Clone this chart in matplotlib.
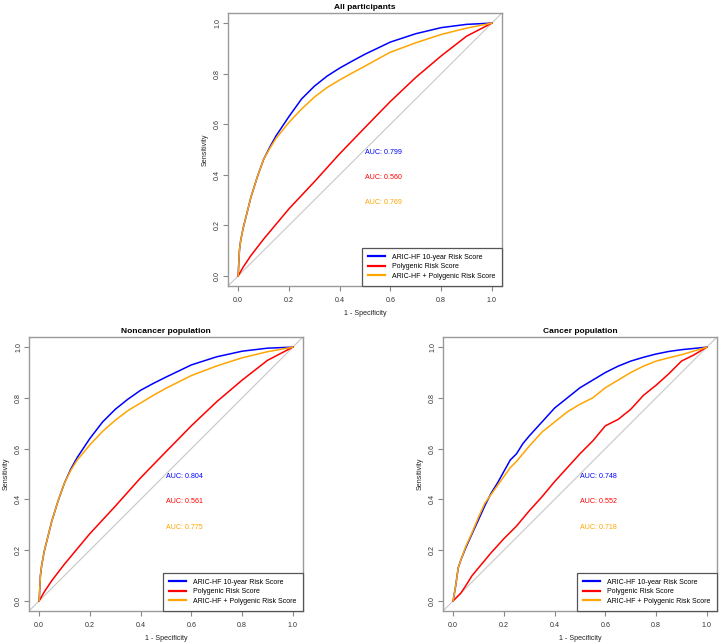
import matplotlib
matplotlib.use("Agg")
import matplotlib.pyplot as plt

plt.rcParams['font.family'] = ['Liberation Sans', 'DejaVu Sans']

# ROC curves (x = 1 - specificity, y = sensitivity)
labels = ["ARIC-HF 10-year Risk Score", "Polygenic Risk Score",
          "ARIC-HF + Polygenic Risk Score"]
colors = ["blue", "red", "orange"]

# All participants
all_fpr_aric = [0, 0.005, 0.01, 0.02, 0.03, 0.05, 0.075, 0.1, 0.125, 0.15, 0.2, 0.25,
                0.3, 0.35, 0.4, 0.45, 0.5, 0.6, 0.7, 0.8, 0.9, 1.0]
all_tpr_aric = [0, 0.10, 0.14, 0.19, 0.23, 0.31, 0.39, 0.46, 0.51, 0.555, 0.63, 0.70,
                0.75, 0.79, 0.822, 0.85, 0.877, 0.925, 0.958, 0.982, 0.995, 1.0]
all_fpr_prs = [0, 0.02, 0.05, 0.1, 0.2, 0.3, 0.4, 0.5, 0.6, 0.7, 0.8, 0.9, 1.0]
all_tpr_prs = [0, 0.035, 0.08, 0.145, 0.265, 0.372, 0.483, 0.587, 0.69, 0.785, 0.87, 0.948, 1.0]
all_fpr_comb = [0, 0.005, 0.01, 0.02, 0.03, 0.05, 0.075, 0.1, 0.125, 0.15, 0.2, 0.25,
                0.3, 0.35, 0.4, 0.45, 0.5, 0.6, 0.7, 0.8, 0.9, 1.0]
all_tpr_comb = [0, 0.10, 0.14, 0.19, 0.23, 0.31, 0.39, 0.46, 0.505, 0.545, 0.607, 0.66,
                0.707, 0.745, 0.775, 0.803, 0.83, 0.885, 0.922, 0.955, 0.98, 1.0]
all_auc = ["0.799", "0.560", "0.769"]

# Noncancer population
non_fpr_aric = [0, 0.005, 0.01, 0.02, 0.03, 0.05, 0.075, 0.1, 0.125, 0.15, 0.2, 0.25,
                0.3, 0.35, 0.4, 0.45, 0.5, 0.6, 0.7, 0.8, 0.9, 1.0]
non_tpr_aric = [0, 0.10, 0.14, 0.195, 0.235, 0.315, 0.395, 0.465, 0.52, 0.565, 0.64, 0.705,
                0.755, 0.795, 0.83, 0.857, 0.882, 0.93, 0.962, 0.984, 0.996, 1.0]
non_fpr_prs = [0, 0.02, 0.05, 0.1, 0.2, 0.3, 0.4, 0.5, 0.6, 0.7, 0.8, 0.9, 1.0]
non_tpr_prs = [0, 0.035, 0.08, 0.145, 0.265, 0.373, 0.485, 0.588, 0.69, 0.785, 0.87, 0.948, 1.0]
non_fpr_comb = [0, 0.005, 0.01, 0.02, 0.03, 0.05, 0.075, 0.1, 0.125, 0.15, 0.2, 0.25,
                0.3, 0.35, 0.4, 0.45, 0.5, 0.6, 0.7, 0.8, 0.9, 1.0]
non_tpr_comb = [0, 0.10, 0.14, 0.195, 0.235, 0.315, 0.395, 0.465, 0.515, 0.555, 0.615, 0.668,
                0.712, 0.75, 0.78, 0.81, 0.838, 0.888, 0.926, 0.958, 0.982, 1.0]
non_auc = ["0.804", "0.561", "0.775"]

# Cancer population
can_fpr_aric = [0, 0.01, 0.02, 0.03, 0.05, 0.075, 0.1, 0.125, 0.15, 0.175, 0.2, 0.225,
                0.25, 0.275, 0.3, 0.35, 0.4, 0.45, 0.5, 0.55, 0.6, 0.65, 0.7, 0.75,
                0.8, 0.85, 0.9, 0.95, 1.0]
can_tpr_aric = [0, 0.06, 0.13, 0.16, 0.21, 0.265, 0.32, 0.375, 0.425, 0.465, 0.51, 0.555,
                0.58, 0.62, 0.65, 0.705, 0.76, 0.80, 0.84, 0.87, 0.90, 0.925, 0.945, 0.96,
                0.973, 0.983, 0.99, 0.995, 1.0]
can_fpr_prs = [0, 0.03, 0.05, 0.075, 0.1, 0.15, 0.2, 0.25, 0.3, 0.35, 0.4, 0.45, 0.5,
               0.55, 0.6, 0.65, 0.7, 0.75, 0.8, 0.85, 0.9, 0.95, 1.0]
can_tpr_prs = [0, 0.03, 0.06, 0.10, 0.13, 0.19, 0.245, 0.295, 0.355, 0.41, 0.47, 0.525, 0.58,
               0.63, 0.69, 0.715, 0.755, 0.81, 0.85, 0.895, 0.945, 0.97, 1.0]
can_fpr_comb = [0, 0.01, 0.02, 0.03, 0.05, 0.075, 0.1, 0.125, 0.15, 0.175, 0.2, 0.225,
                0.25, 0.275, 0.3, 0.35, 0.4, 0.45, 0.5, 0.55, 0.6, 0.65, 0.7, 0.75,
                0.8, 0.85, 0.9, 0.95, 1.0]
can_tpr_comb = [0, 0.06, 0.13, 0.16, 0.215, 0.27, 0.33, 0.385, 0.42, 0.455, 0.49, 0.525,
                0.55, 0.58, 0.61, 0.665, 0.705, 0.745, 0.775, 0.80, 0.84, 0.87, 0.90, 0.925,
                0.945, 0.958, 0.97, 0.985, 1.0]
can_auc = ["0.748", "0.552", "0.718"]

ticks = [0.0, 0.2, 0.4, 0.6, 0.8, 1.0]
tick_labels = ["0.0", "0.2", "0.4", "0.6", "0.8", "1.0"]

W, H = 719, 642
fig = plt.figure(figsize=(W / 100, H / 100), dpi=100)


def panel(box, title, curves, aucs):
    x0, y0, x1, y1 = box  # pixel box, y from top
    ax = fig.add_axes([x0 / W, (H - y1) / H, (x1 - x0) / W, (y1 - y0) / H])
    ax.set_xlim(-0.04, 1.04)
    ax.set_ylim(-0.04, 1.04)
    ax.plot([-0.04, 1.04], [-0.04, 1.04], color="#c8c8c8", lw=0.8, zorder=1)
    for (fpr, tpr), c, lab in zip(curves, colors, labels):
        ax.plot(fpr, tpr, color=c, lw=1.1, label=lab, zorder=2)
    for i, (a, c) in enumerate(zip(aucs, colors)):
        ax.text(0.5, 0.49 - 0.1 * i, "AUC: " + a, color=c, fontsize=5.1,
                ha="left", va="center")
    for s in ax.spines.values():
        s.set_color("#9a9a9a")
        s.set_linewidth(1.0)
    ax.set_xticks(ticks)
    ax.set_xticklabels(tick_labels)
    ax.set_yticks(ticks)
    ax.set_yticklabels(tick_labels, rotation=90, va="center")
    ax.tick_params(colors="#888888", labelcolor="#333333", length=3.5, width=0.8,
                   labelsize=5.1)
    ax.tick_params(axis="x", pad=4.5)
    ax.tick_params(axis="y", pad=1.5)
    ax.set_xlabel("1 - Specificity", fontsize=5.1, color="#222222", labelpad=4)
    ax.set_ylabel("Sensitivity", fontsize=5.1, color="#222222", labelpad=4)
    ax.set_title(title, fontsize=6, fontweight="bold", pad=3)
    leg = ax.legend(loc="lower right", borderaxespad=0, fontsize=5,
                    fancybox=False, framealpha=1, handlelength=2.5,
                    handletextpad=1.0, borderpad=0.9, labelspacing=0.35)
    leg.get_frame().set_edgecolor("#555555")
    leg.get_frame().set_linewidth(0.9)
    for h in leg.get_lines():
        h.set_linewidth(1.6)
    return ax


panel((228, 13, 502, 286), "All participants",
      [(all_fpr_aric, all_tpr_aric), (all_fpr_prs, all_tpr_prs), (all_fpr_comb, all_tpr_comb)],
      all_auc)
panel((29, 337, 303, 611), "Noncancer population",
      [(non_fpr_aric, non_tpr_aric), (non_fpr_prs, non_tpr_prs), (non_fpr_comb, non_tpr_comb)],
      non_auc)
panel((443, 337, 717, 611), "Cancer population",
      [(can_fpr_aric, can_tpr_aric), (can_fpr_prs, can_tpr_prs), (can_fpr_comb, can_tpr_comb)],
      can_auc)

fig.savefig("out.png", dpi=100)
